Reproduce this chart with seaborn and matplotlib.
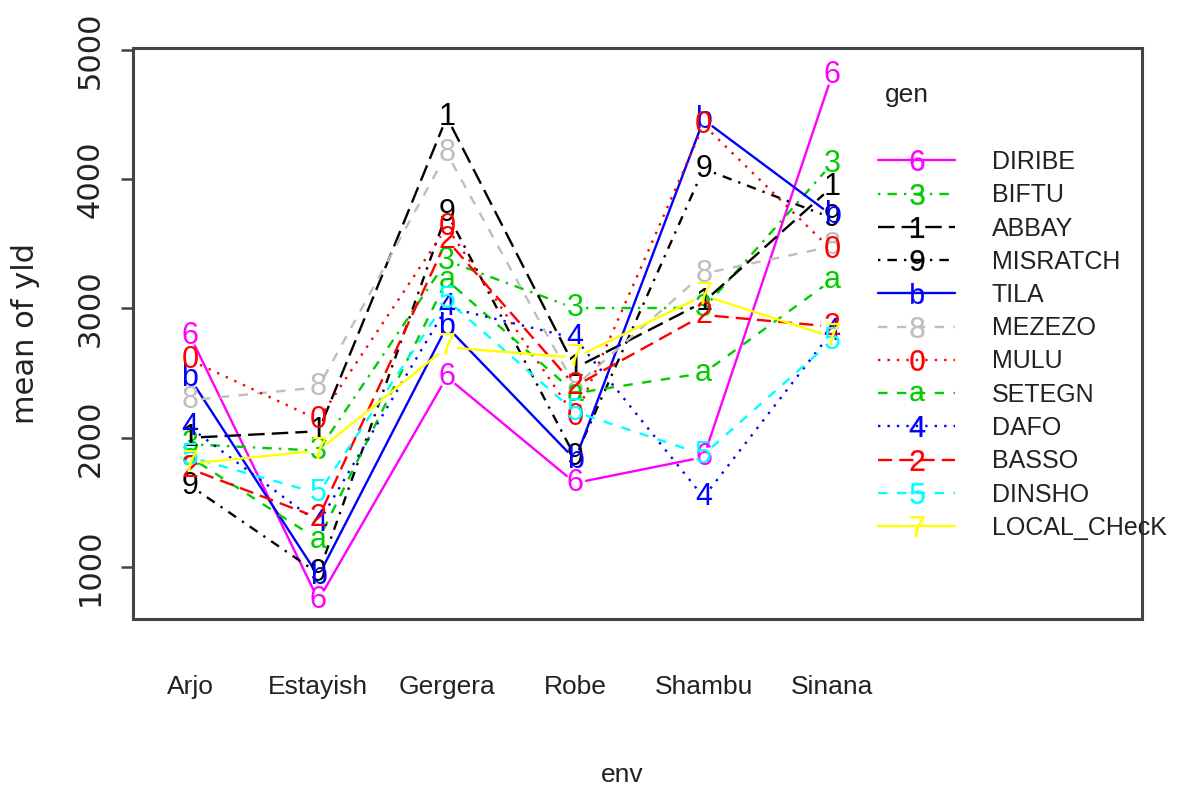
import numpy as np
import pandas as pd
import matplotlib
matplotlib.use("Agg")
import matplotlib.pyplot as plt
from matplotlib.lines import Line2D
import seaborn as sns

# ---------------- data ----------------
envs = ["Arjo", "Estayish", "Gergera", "Robe", "Shambu", "Sinana"]
gens = ["DIRIBE", "BIFTU", "ABBAY", "MISRATCH", "TILA", "MEZEZO",
        "MULU", "SETEGN", "DAFO", "BASSO", "DINSHO", "LOCAL_CHecK"]
pch = ["6", "3", "1", "9", "b", "8", "0", "a", "4", "2", "5", "7"]

# mean yield per genotype (same order as gens) in each environment
arjo     = [2790, 1950, 2000, 1630, 2460, 2290, 2600, 1850, 2080, 1760, 1850, 1800]
estayish = [ 745, 1900, 2050,  950,  930, 2390, 2140, 1210, 1340, 1380, 1570, 1900]
gergera  = [2470, 3370, 4480, 3740, 2860, 4200, 3630, 3220, 3010, 3530, 3065, 2700]
robe     = [1650, 3000, 2540, 1850, 1830, 2400, 2160, 2345, 2770, 2400, 2200, 2620]
shambu   = [1850, 3000, 3050, 4080, 4460, 3270, 4420, 2500, 1540, 2950, 1870, 3100]
sinana   = [4805, 4120, 3940, 3700, 3720, 3480, 3450, 3220, 2820, 2860, 2750, 2780]

# ---------------- styles ----------------
colors = ["#FF00FF", "#00CD00", "#000000", "#000000", "#0000FF", "#BEBEBE",
          "#FF0000", "#00CD00", "#0000FF", "#FF0000", "#00FFFF", "#FFFF00"]
dash_list = ["", (1, 3, 4, 3), (7, 3), (1, 3, 4, 3), "", (4, 4),
             (1, 3), (4, 4), (1, 3), (6, 3), (4, 4), ""]

sns.set_style("white")
sans = "Liberation Sans"
plt.rcParams["font.family"] = [sans, "DejaVu Sans"]
plt.rcParams["mathtext.fontset"] = "custom"
plt.rcParams["mathtext.rm"] = "Liberation Sans"

W, H = 1185, 793
fig = plt.figure(figsize=(W / 100, H / 100), dpi=100)
L, R, T, B = 133, 1142, 48, 619
ax = fig.add_axes([L / W, 1 - B / H, (R - L) / W, (B - T) / H])

xs = np.arange(len(envs))
xlim = (-0.444, 7.414)
ylim = (598, 5015)
ax.set_xlim(*xlim)
ax.set_ylim(*ylim)

table = np.array([arjo, estayish, gergera, robe, shambu, sinana]).T  # gens x envs

# build gapped segments (like R type="b")
gap = 11.0
trans = ax.transData
rows = []
seg_id = 0
for gi, g in enumerate(gens):
    pts = trans.transform(np.column_stack([xs, table[gi]]))
    for k in range(len(xs) - 1):
        p0, p1 = pts[k], pts[k + 1]
        d = p1 - p0
        n = np.hypot(*d)
        if n <= 2 * gap:
            continue
        u = d / n
        a = trans.inverted().transform(p0 + u * gap)
        b = trans.inverted().transform(p1 - u * gap)
        rows.append((g, seg_id, a[0], a[1]))
        rows.append((g, seg_id, b[0], b[1]))
        seg_id += 1
seg_df = pd.DataFrame(rows, columns=["gen", "seg", "x", "y"])

palette = dict(zip(gens, colors))
dashes = dict(zip(gens, dash_list))
sns.lineplot(data=seg_df, x="x", y="y", hue="gen", style="gen", units="seg",
             estimator=None, sort=False, palette=palette, dashes=dashes,
             linewidth=1.7, legend=False, ax=ax)

for gi, g in enumerate(gens):
    for k in range(len(xs)):
        ax.text(xs[k], table[gi][k], pch[gi], color=colors[gi], fontsize=22,
                family=sans, ha="center", va="center", zorder=5)

ax.set_xlim(*xlim)
ax.set_ylim(*ylim)

# axes cosmetics
for s in ax.spines.values():
    s.set_visible(True)
    s.set_color("#444444")
    s.set_linewidth(2.2)
ax.set_xticks(xs)
ax.set_xticklabels(envs, fontsize=19, family=sans, color="#222222")
ax.tick_params(axis="x", length=0, pad=40)
ax.set_yticks([1000, 2000, 3000, 4000, 5000])
ax.set_yticklabels(["1000", "2000", "3000", "4000", "5000"], rotation=90,
                   fontsize=22, family="DejaVu Sans", va="center", color="#222222")
ax.tick_params(axis="y", left=True, length=8.6, width=1.8, color="#444444", pad=12)

ax.set_xlabel("env", fontsize=19, family=sans, va="center", color="#222222")
ax.xaxis.set_label_coords(0.485, -0.273)
ax.set_ylabel("mean of yld", fontsize=22, family="DejaVu Sans", va="center",
              color="#222222")
ax.yaxis.set_label_coords(-0.107, 0.5)

# legend
handles = []
for gi, g in enumerate(gens):
    ls = "-" if dash_list[gi] == "" else (0, dash_list[gi])
    msz = 11 if pch[gi] == "a" else 15
    handles.append(Line2D([0], [0], color=colors[gi], lw=1.7, linestyle=ls,
                          marker=r"$\mathrm{%s}$" % pch[gi], markersize=msz,
                          markeredgewidth=0.2, markerfacecolor=colors[gi],
                          markeredgecolor=colors[gi]))
fs_leg = 18
px = fs_leg * 100 / 72
leg = ax.legend(handles, gens, loc="upper left",
                bbox_to_anchor=(878 / W, 1 - 150 / H), bbox_transform=fig.transFigure,
                frameon=False, fontsize=fs_leg, labelspacing=0.37,
                handlelength=77 / px, handletextpad=37 / px,
                borderpad=0, borderaxespad=0)
for t in leg.get_texts():
    t.set_color("#222222")
fig.text(885 / W, 1 - 95 / H, "gen", fontsize=19, family=sans, ha="left",
         va="center", color="#222222")

fig.savefig("out.png", dpi=100)
